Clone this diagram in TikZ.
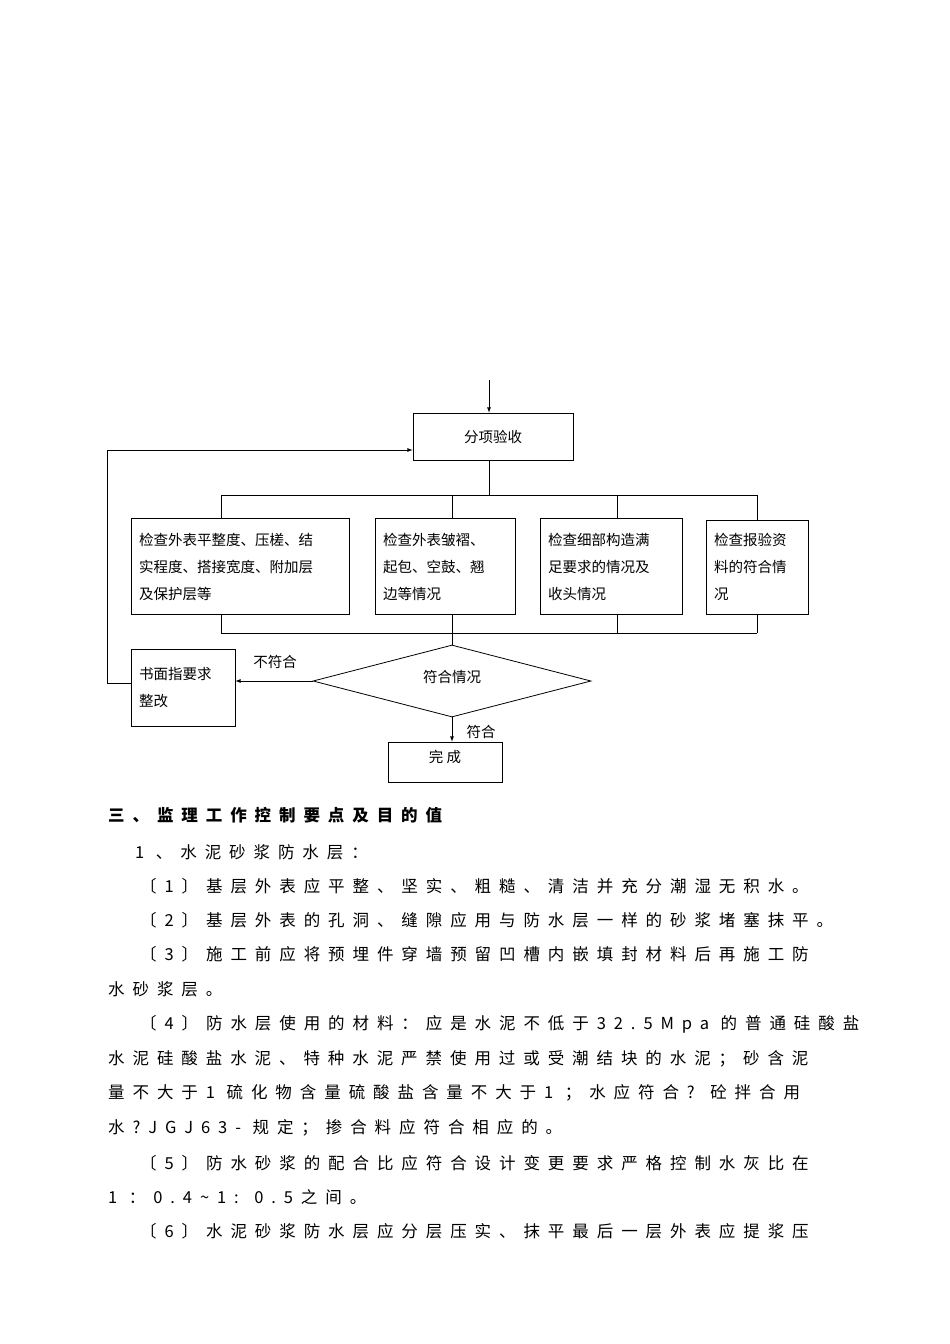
\documentclass[tikz,border=0pt]{standalone}
\usepackage{fontspec}
\setmainfont{Noto Sans CJK SC}
\usetikzlibrary{shapes.geometric}
\begin{document}
\begin{tikzpicture}[x=1pt,y=-1pt,
  box/.style={draw,thick,inner sep=0pt},
  bt/.style={anchor=north west,align=left,font=\fontsize{14.5}{27}\selectfont,inner sep=0pt},
  ln/.style={anchor=west,inner sep=0pt,font=\fontsize{16.5}{20}\selectfont\addfontfeature{LetterSpace=48}},
  lbl/.style={font=\fontsize{14.5}{17}\selectfont,inner sep=1pt},
  >=latex]
\useasboundingbox (0,0) rectangle (950,1344);
\node[box,minimum width=160,minimum height=47] (fx) at (493,436.5) {\fontsize{14.5}{17}\selectfont 分项验收};
\coordinate (top) at (489,380);
\draw[->,thick] (top) -- (fx.north-|top);
\node[box,minimum width=218,minimum height=96] (b1) at (240,566) {};
\node[bt] at (139,533) {检查外表平整度、压槎、结\\实程度、搭接宽度、附加层\\及保护层等};
\node[box,minimum width=140,minimum height=96] (b2) at (445,566) {};
\node[bt] at (383,533) {检查外表皱褶、\\起包、空鼓、翘\\边等情况};
\node[box,minimum width=142,minimum height=96] (b3) at (611,566) {};
\node[bt] at (548,533) {检查细部构造满\\足要求的情况及\\收头情况};
\node[box,minimum width=102,minimum height=94] (b4) at (757,567) {};
\node[bt] at (714,533) {检查报验资\\料的符合情\\况};
\coordinate (h1) at (489,495);
\draw[thick] (fx.south-|h1) -- (h1);
\draw[thick] (221,495) -- (757,495);
\foreach \x/\b in {221/b1,452/b2,617/b3,757/b4}{
  \draw[thick] (\x,495) -- (\b.north-|\x,0);
  \draw[thick] (\b.south-|\x,0) -- (\x,633);
}
\draw[thick] (221,633) -- (757,633);
\node[diamond,draw,thick,aspect=3.86,minimum width=278,minimum height=72,inner sep=0pt] (d) at (452,681) {};
\node[lbl] at (452,677) {符合情况};
\draw[thick] (452,633) -- (d.north);
\node[box,minimum width=104,minimum height=77] (sm) at (183,687.5) {};
\node[bt] at (139,667) {书面指要求\\整改};
\draw[->,thick] (d.west) -- (sm.east|-d.west) ;
\node[lbl] at (275,662) {不符合};
\node[box,minimum width=114,minimum height=40] (wc) at (445,762) {};
\node[lbl] at (445,757) {完\ 成};
\draw[->,thick] (d.south) -- (wc.north-|d.south);
\node[lbl] at (481,732) {符合};
\coordinate (c1) at (107,683);
\coordinate (c2) at (107,450);
\draw[thick] (sm.west|-c1) -- (c1) -- (c2);
\draw[->,thick] (c2) -- (fx.west|-c2);
% text
\node[ln,font=\fontsize{16.5}{20}\selectfont\bfseries\addfontfeature{LetterSpace=48}] at (108,815) {三、监理工作控制要点及目的值};
\node[ln] at (135,852) {1 、水泥砂浆防水层：};
\node[ln] at (140,886) {〔1〕基层外表应平整、坚实、粗糙、清洁并充分潮湿无积水。};
\node[ln] at (140,920) {〔2〕基层外表的孔洞、缝隙应用与防水层一样的砂浆堵塞抹平。};
\node[ln] at (140,954) {〔3〕施工前应将预埋件穿墙预留凹槽内嵌填封材料后再施工防};
\node[ln] at (108,989) {水砂浆层。};
\node[ln] at (140,1024) {〔4〕防水层使用的材料：应是水泥不低于32.5Mpa 的普通硅酸盐};
\node[ln] at (108,1059) {水泥硅酸盐水泥、特种水泥严禁使用过或受潮结块的水泥；砂含泥};
\node[ln] at (108,1093) {量不大于1 硫化物含量硫酸盐含量不大于1 ；水应符合? 砼拌合用};
\node[ln] at (108,1128) {水?JGJ63- 规定；掺合料应符合相应的。};
\node[ln] at (140,1163) {〔5〕防水砂浆的配合比应符合设计变更要求严格控制水灰比在};
\node[ln] at (108,1197) {1 ：0.4\~{}1: 0.5之间。};
\node[ln] at (140,1231) {〔6〕水泥砂浆防水层应分层压实、抹平最后一层外表应提浆压};
\end{tikzpicture}
\end{document}
